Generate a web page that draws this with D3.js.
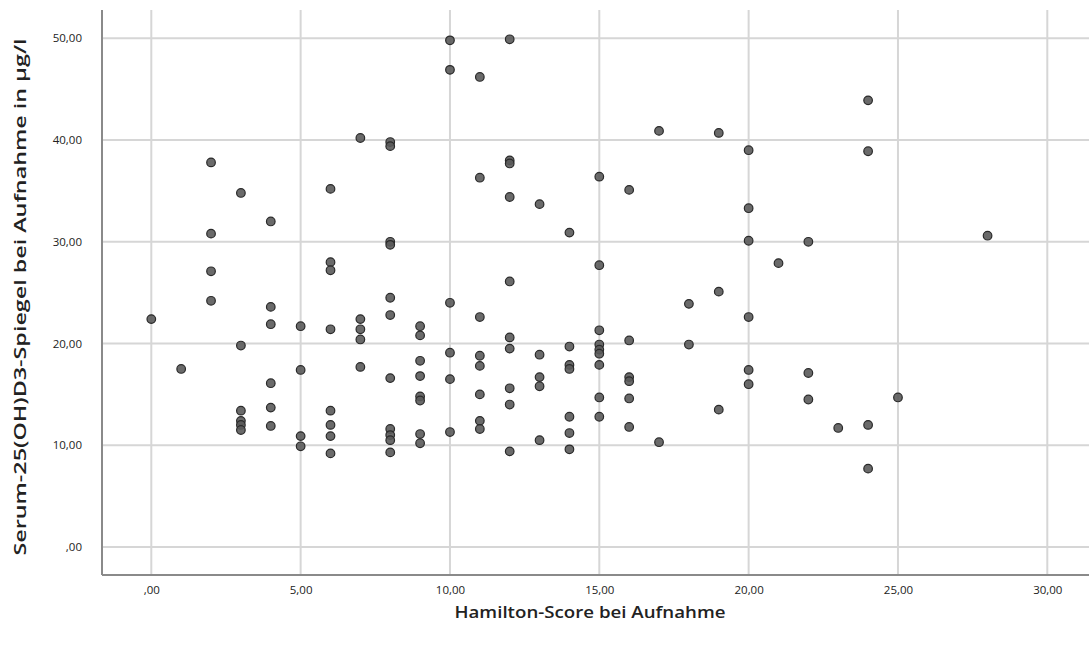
<!DOCTYPE html>
<html>
<head>
<meta charset="utf-8">
<script src="https://cdn.jsdelivr.net/npm/d3@7"></script>
<style>
  html, body { margin: 0; padding: 0; background: #fff; }
  svg { display: block; }
</style>
</head>
<body>
<svg id="chart" width="1089" height="648"></svg>
<script>
// ---- data ----
const hamiltonScore = [
  0,
  1,
  2, 2, 2, 2,
  3, 3, 3, 3, 3, 3,
  4, 4, 4, 4, 4, 4,
  5, 5, 5, 5,
  6, 6, 6, 6, 6, 6, 6, 6,
  7, 7, 7, 7, 7,
  8, 8, 8, 8, 8, 8, 8, 8, 8, 8, 8,
  9, 9, 9, 9, 9, 9, 9, 9,
  10, 10, 10, 10, 10, 10,
  11, 11, 11, 11, 11, 11, 11, 11,
  12, 12, 12, 12, 12, 12, 12, 12, 12, 12,
  13, 13, 13, 13, 13,
  14, 14, 14, 14, 14, 14, 14,
  15, 15, 15, 15, 15, 15, 15, 15, 15,
  16, 16, 16, 16, 16, 16,
  17, 17,
  18, 18,
  19, 19, 19,
  20, 20, 20, 20, 20, 20,
  21,
  22, 22, 22,
  23,
  24, 24, 24, 24,
  25,
  28
];
const vitaminD = [
  22.4,
  17.5,
  37.8, 30.8, 27.1, 24.2,
  34.8, 19.8, 13.4, 12.4, 12.0, 11.5,
  32.0, 23.6, 21.9, 16.1, 13.7, 11.9,
  21.7, 17.4, 10.9, 9.9,
  35.2, 28.0, 27.2, 21.4, 13.4, 12.0, 10.9, 9.2,
  40.2, 22.4, 21.4, 20.4, 17.7,
  39.8, 39.4, 30.0, 29.7, 24.5, 22.8, 16.6, 11.6, 11.0, 10.5, 9.3,
  21.7, 20.8, 18.3, 16.8, 14.8, 14.4, 11.1, 10.2,
  49.8, 46.9, 24.0, 19.1, 16.5, 11.3,
  46.2, 36.3, 22.6, 18.8, 17.8, 15.0, 12.4, 11.6,
  49.9, 38.0, 37.7, 34.4, 26.1, 20.6, 19.5, 15.6, 14.0, 9.4,
  33.7, 18.9, 16.7, 15.8, 10.5,
  30.9, 19.7, 17.9, 17.5, 12.8, 11.2, 9.6,
  36.4, 27.7, 21.3, 19.9, 19.4, 19.0, 17.9, 14.7, 12.8,
  35.1, 20.3, 16.7, 16.3, 14.6, 11.8,
  40.9, 10.3,
  23.9, 19.9,
  40.7, 25.1, 13.5,
  39.0, 33.3, 30.1, 22.6, 17.4, 16.0,
  27.9,
  30.0, 17.1, 14.5,
  11.7,
  43.9, 38.9, 12.0, 7.7,
  14.7,
  30.6
];
const xTickValues = [0, 5, 10, 15, 20, 25, 30];
const xTickLabels = [",00", "5,00", "10,00", "15,00", "20,00", "25,00", "30,00"];
const yTickValues = [0, 10, 20, 30, 40, 50];
const yTickLabels = [",00", "10,00", "20,00", "30,00", "40,00", "50,00"];
const xTitle = "Hamilton-Score bei Aufnahme";
const yTitle = "Serum-25(OH)D3-Spiegel bei Aufnahme in µg/l";

// ---- layout ----
const svg = d3.select("#chart");
const frame = { left: 102, right: 1089, top: 10, bottom: 575 };
const font = "'Open Sans', 'DejaVu Sans', sans-serif";

const x = d3.scaleLinear().domain([0, 30]).range([151.3, 1047.3]);
const y = d3.scaleLinear().domain([0, 50]).range([547, 38.3]);

// gridlines
const grid = svg.append("g");
grid.selectAll("line.h").data(yTickValues).enter().append("line")
  .attr("x1", frame.left).attr("x2", frame.right)
  .attr("y1", d => y(d)).attr("y2", d => y(d))
  .attr("stroke", "#d6d6d6").attr("stroke-width", 2);
grid.selectAll("line.v").data(xTickValues).enter().append("line")
  .attr("y1", frame.top).attr("y2", frame.bottom)
  .attr("x1", d => x(d)).attr("x2", d => x(d))
  .attr("stroke", "#d6d6d6").attr("stroke-width", 2);

// axes
const xAxis = d3.axisBottom(x).tickValues(xTickValues)
  .tickFormat((d, i) => xTickLabels[i]).tickSize(0).tickPadding(11);
const yAxis = d3.axisLeft(y).tickValues(yTickValues)
  .tickFormat((d, i) => yTickLabels[i]).tickSize(0).tickPadding(20);

const gx = svg.append("g").attr("transform", `translate(0,${frame.bottom})`).call(xAxis);
const gy = svg.append("g").attr("transform", `translate(${frame.left},0)`).call(yAxis);
[gx, gy].forEach(g => {
  g.select(".domain").remove();
  g.selectAll("text").attr("font-family", font)
    .attr("font-size", 11.5).attr("fill", "#222");
});

// axis lines
svg.append("line").attr("x1", frame.left).attr("x2", frame.left)
  .attr("y1", frame.top).attr("y2", frame.bottom)
  .attr("stroke", "#8a8a8a").attr("stroke-width", 2);
svg.append("line").attr("x1", frame.left).attr("x2", frame.right)
  .attr("y1", frame.bottom).attr("y2", frame.bottom)
  .attr("stroke", "#8a8a8a").attr("stroke-width", 2);

// points
svg.append("g").selectAll("circle")
  .data(hamiltonScore.map((h, i) => ({ h, v: vitaminD[i] })))
  .enter().append("circle")
  .attr("cx", d => x(d.h)).attr("cy", d => y(d.v)).attr("r", 4.3)
  .attr("fill", "#5a5a5a").attr("fill-opacity", 0.9)
  .attr("stroke", "#2a2a2a").attr("stroke-width", 1.2);

// titles
svg.append("text").attr("x", 590).attr("y", 618)
  .attr("text-anchor", "middle")
  .attr("font-family", font)
  .attr("font-size", 17).attr("font-weight", 600).attr("fill", "#222")
  .attr("textLength", 271).attr("lengthAdjust", "spacingAndGlyphs")
  .text(xTitle);
svg.append("text").attr("transform", "translate(26,297) rotate(-90)")
  .attr("text-anchor", "middle")
  .attr("font-family", font)
  .attr("font-size", 17).attr("font-weight", 600).attr("fill", "#222")
  .attr("textLength", 517).attr("lengthAdjust", "spacingAndGlyphs")
  .text(yTitle);
</script>
</body>
</html>
